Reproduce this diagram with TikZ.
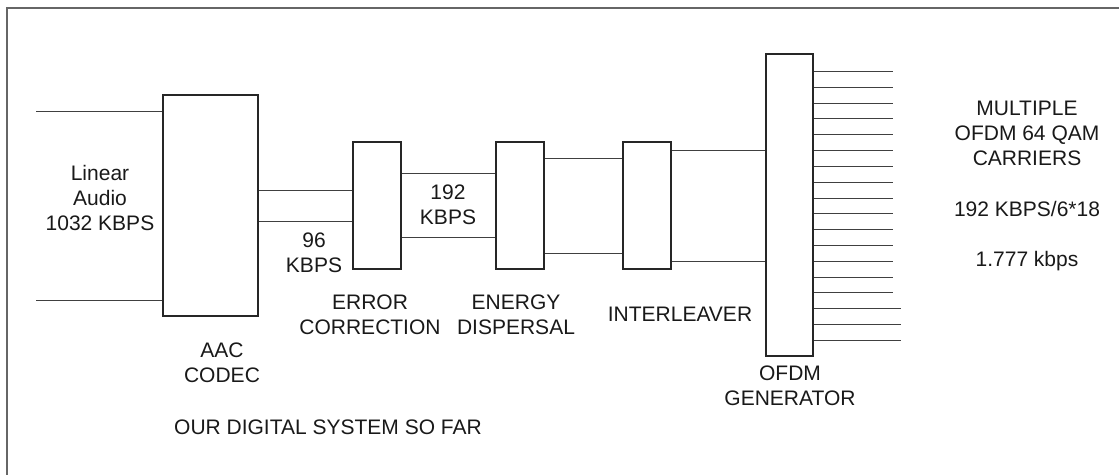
\documentclass[tikz,border=0pt]{standalone}
\usepackage{fontspec}
\setmainfont{Liberation Sans}
\usetikzlibrary{positioning}

\begin{document}
\begin{tikzpicture}[
  x=0.5pt, y=-0.5pt,
  block/.style={rectangle, draw=black!85, line width=0.55pt, minimum width=24pt, minimum height=63.5pt, inner sep=0},
  lbl/.style={align=center, inner sep=0, text=black!90, font=\fontsize{10.5}{12.5}\selectfont},
  wire/.style={draw=black!75, line width=0.55pt}
]
\useasboundingbox (0,0) rectangle (1119,475);

% Frame
\draw[black!60, line width=0.6pt] (7,475) -- (7,8) -- (1119,8);

% Blocks
\node[block, minimum width=47.5pt, minimum height=110.5pt] (aac) at (210.5,205.5) {};
\node[block] (err) at (377,205.5) {};
\node[block] (disp) at (520,205.5) {};
\node[block] (ilv) at (647,205.5) {};
\node[block, minimum width=23.5pt, minimum height=151pt] (ofdm) at (789.5,205) {};

% Inputs
\coordinate (inA) at (36,111.5);
\coordinate (inB) at (36,300.5);
\draw[wire] (inA) -- (inA -| aac.west);
\draw[wire] (inB) -- (inB -| aac.west);

% Links
\foreach \y in {190.5,221.5} \draw[wire] (aac.east |- 0,\y) -- (err.west |- 0,\y);
\foreach \y in {173.5,237.5} \draw[wire] (err.east |- 0,\y) -- (disp.west |- 0,\y);
\foreach \y in {158.5,253.5} \draw[wire] (disp.east |- 0,\y) -- (ilv.west |- 0,\y);
\foreach \y in {150.5,261.5} \draw[wire] (ilv.east |- 0,\y) -- (ofdm.west |- 0,\y);

% Carriers
\foreach \i in {0,...,17} {
  \pgfmathsetmacro\cy{71.5+round(\i*15.82)}
  \pgfmathsetmacro\cx{\i>14 ? 901 : 893}
  \coordinate (car\i) at (\cx,\cy);
  \draw[wire] (ofdm.east |- car\i) -- (car\i);
}

% Labels
\node[lbl] (lin) at (100,198) {Linear\\Audio\\1032 KBPS};
\node[lbl] (aacl) at (222,362.5) {AAC\\CODEC};
\node[lbl] (r96) at (314,252.5) {96\\KBPS};
\node[lbl] (errl) at (370,315) {ERROR\\CORRECTION};
\node[lbl] (r192) at (448,205) {192\\KBPS};
\node[lbl] (displ) at (516,314.5) {ENERGY\\DISPERSAL};
\node[lbl] (ilvl) at (680,314) {INTERLEAVER};
\node[lbl] (ofdml) at (790,385.5) {OFDM\\GENERATOR};
\node[lbl] (multi) at (1027,133) {MULTIPLE\\OFDM 64 QAM\\CARRIERS};
\node[lbl] (rate) at (1027,209) {192 KBPS/6*18};
\node[lbl] (kbps) at (1027,261) {1.777 kbps};
\node[lbl] (title) at (328,427) {OUR DIGITAL SYSTEM SO FAR};

\end{tikzpicture}
\end{document}
